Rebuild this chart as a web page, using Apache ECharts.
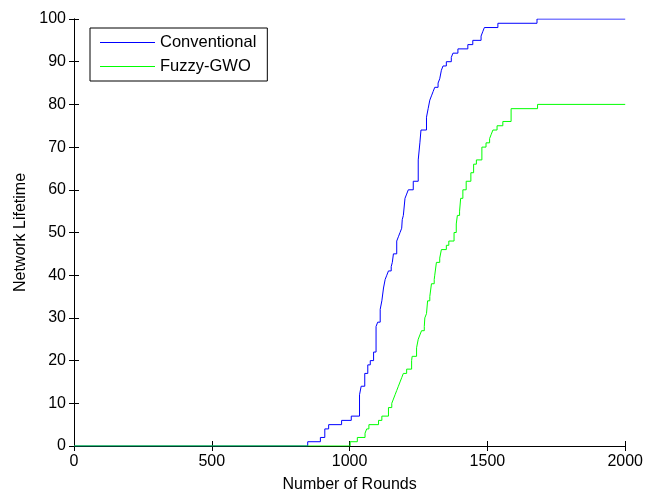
<!DOCTYPE html>
<html>
<head>
<meta charset="utf-8">
<script src="https://cdn.jsdelivr.net/npm/echarts@6/dist/echarts.min.js"></script>
<style>
html,body{margin:0;padding:0;background:#fff;}
#chart{width:646px;height:498px;}
</style>
</head>
<body>
<div id="chart"></div>
<script>
// Step change points: [round, value]
var seriesNames = ['Conventional', 'Fuzzy-GWO'];
var xTicks = [0, 500, 1000, 1500, 2000];
var yTicks = [0, 10, 20, 30, 40, 50, 60, 70, 80, 90, 100];

var conventionalRounds = [0, 848, 894, 910, 924, 971, 1006, 1036, 1042, 1055, 1066, 1075, 1087, 1096, 1102, 1111, 1117, 1123, 1129, 1135, 1141, 1151, 1155, 1159, 1171, 1177, 1183, 1189, 1191, 1195, 1201, 1207, 1213, 1231, 1249, 1255, 1259, 1279, 1285, 1291, 1297, 1303, 1309, 1321, 1327, 1333, 1339, 1351, 1369, 1375, 1393, 1429, 1447, 1477, 1483, 1489, 1538, 1680, 2000];
var conventionalValues = [0, 1, 2, 4, 5, 6, 7, 12, 14, 17, 19, 20, 22, 28, 29, 32, 34, 37, 39, 40, 41, 42, 43, 45, 48, 49, 50, 51, 53, 54, 58, 59, 60, 62, 67, 71, 74, 77, 79, 81, 82, 83, 84, 85, 86, 88, 89, 90, 91, 92, 93, 94, 95, 96, 97, 98, 99, 100, 100];

var fuzzyRounds = [0, 1002, 1028, 1056, 1062, 1070, 1105, 1117, 1141, 1153, 1159, 1165, 1171, 1177, 1183, 1189, 1195, 1207, 1225, 1227, 1243, 1249, 1255, 1261, 1271, 1273, 1279, 1283, 1291, 1297, 1307, 1309, 1315, 1327, 1333, 1351, 1360, 1379, 1387, 1391, 1399, 1403, 1411, 1423, 1440, 1450, 1460, 1480, 1495, 1508, 1514, 1520, 1535, 1556, 1586, 1682, 2000];
var fuzzyValues = [0, 1, 2, 3, 4, 5, 6, 7, 9, 10, 11, 12, 13, 14, 15, 16, 17, 18, 20, 21, 23, 25, 26, 27, 28, 30, 31, 34, 35, 38, 39, 40, 43, 44, 46, 47, 48, 50, 52, 54, 55, 58, 60, 62, 64, 66, 67, 70, 71, 72, 73, 74, 75, 76, 79, 80, 80];

function pairs(xs, ys) { return xs.map(function (x, i) { return [x, ys[i]]; }); }

var FONT = 'Liberation Sans, Arial, sans-serif';
var FS = 16;
var chart = echarts.init(document.getElementById('chart'), null, {renderer: 'canvas'});
var axisCommon = {
  axisLine: {show: true, lineStyle: {color: '#000', width: 1}},
  axisTick: {show: true, inside: true, length: 5, lineStyle: {color: '#000'}},
  splitLine: {show: false}
};
chart.setOption({
  animation: false,
  backgroundColor: '#fff',
  grid: {left: 74, right: 18, top: 19, bottom: 48, containLabel: false},
  legend: {
    orient: 'vertical', left: 90, top: 28,
    data: seriesNames,
    icon: 'rect',
    backgroundColor: '#fff',
    borderColor: '#000', borderWidth: 1, borderRadius: 0,
    padding: [6, 11, 6, 10],
    itemWidth: 55, itemHeight: 1, itemGap: 7,
    textStyle: {fontFamily: FONT, fontSize: 16.5, color: '#000', padding: [0, 0, 0, 0]}
  },
  xAxis: [
    Object.assign({
      type: 'value', min: 0, max: 2000, interval: 500, position: 'bottom',
      name: 'Number of Rounds', nameLocation: 'middle', nameGap: 31,
      nameTextStyle: {fontFamily: FONT, fontSize: FS, color: '#000'},
      axisLabel: {fontFamily: FONT, fontSize: FS, color: '#000', margin: 8,
        formatter: function (v) { return String(v); }}
    }, axisCommon),
    Object.assign({
      type: 'value', min: 0, max: 2000, interval: 500, position: 'top',
      axisLabel: {show: false}
    }, axisCommon)
  ],
  yAxis: [
    Object.assign({
      type: 'value', min: 0, max: 100, interval: 10, position: 'left',
      name: 'Network Lifetime', nameLocation: 'middle', nameGap: 45,
      nameTextStyle: {fontFamily: FONT, fontSize: FS, color: '#000'},
      axisLabel: {fontFamily: FONT, fontSize: FS, color: '#000', margin: 8,
        formatter: function (v) { return String(v); }}
    }, axisCommon),
    Object.assign({
      type: 'value', min: 0, max: 100, interval: 10, position: 'right',
      axisLabel: {show: false}
    }, axisCommon)
  ],
  series: [
    {
      name: seriesNames[0], type: 'line', step: 'end', symbol: 'none',
      data: pairs(conventionalRounds, conventionalValues),
      lineStyle: {color: '#0000ff', width: 1}, itemStyle: {color: '#0000ff'}
    },
    {
      name: seriesNames[1], type: 'line', step: 'end', symbol: 'none',
      data: pairs(fuzzyRounds, fuzzyValues),
      lineStyle: {color: '#00ff00', width: 1}, itemStyle: {color: '#00ff00'}
    }
  ]
});
</script>
</body>
</html>
